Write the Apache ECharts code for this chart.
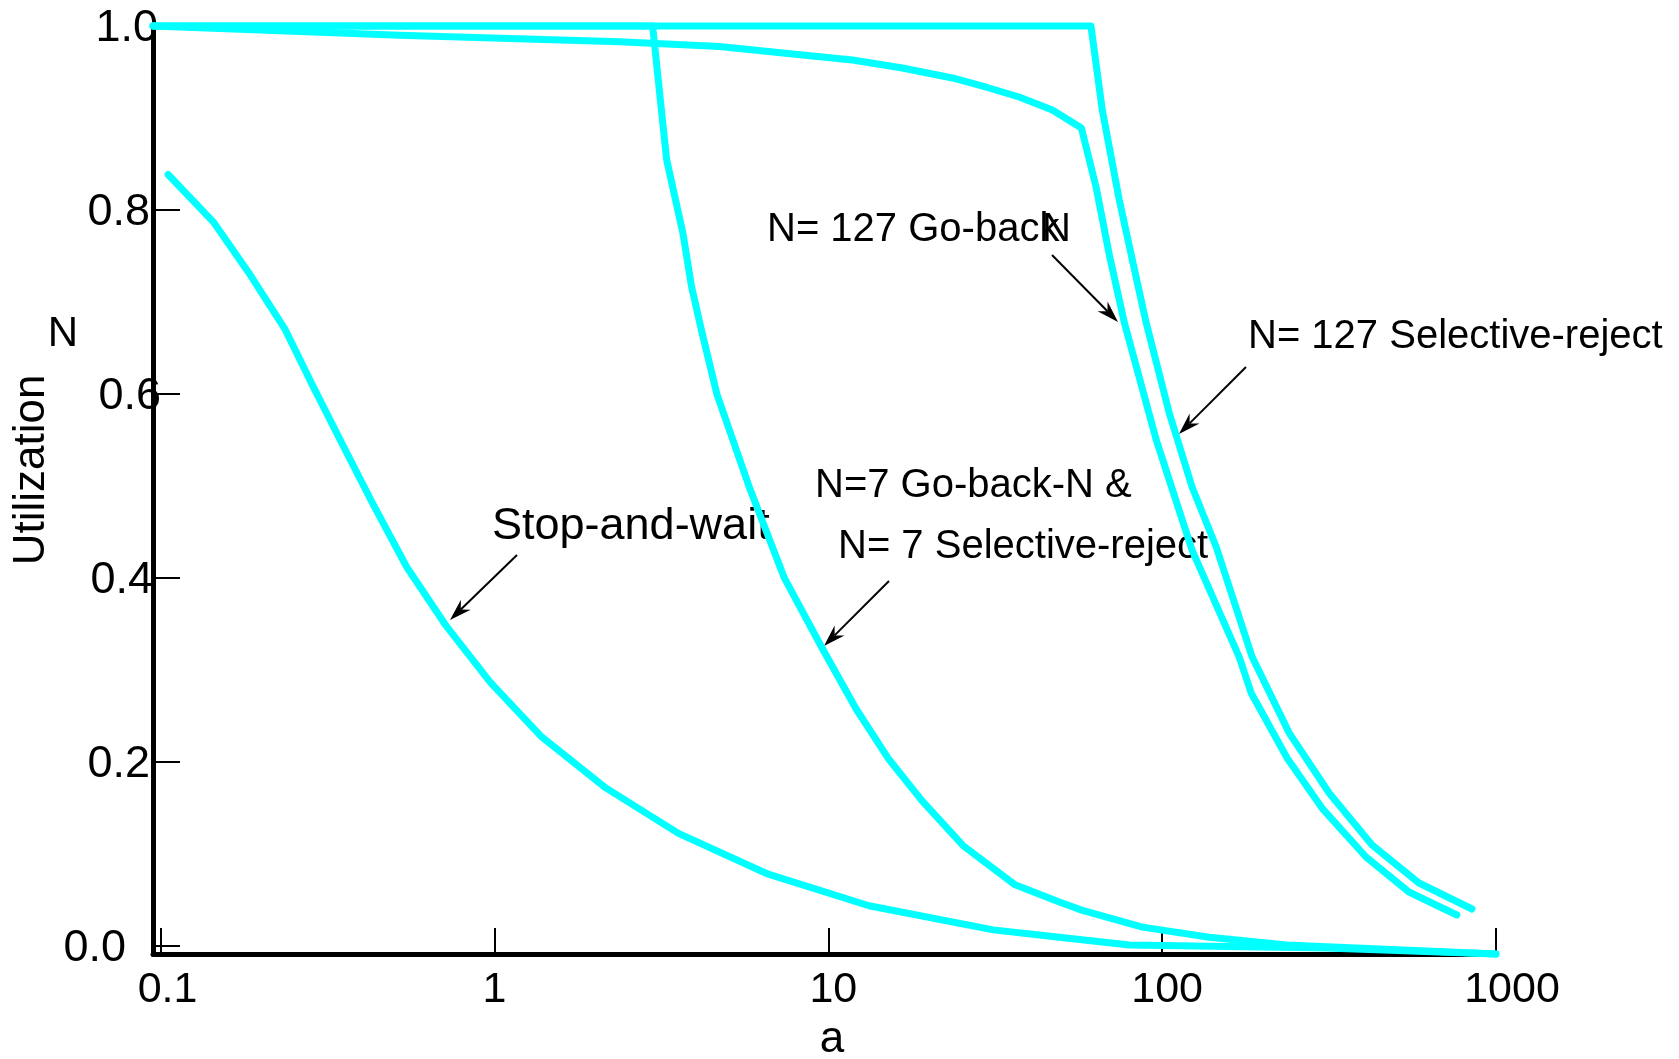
<!DOCTYPE html>
<html>
<head>
<meta charset="utf-8">
<script src="https://cdn.jsdelivr.net/npm/echarts@6/dist/echarts.min.js"></script>
<style>
html,body{margin:0;padding:0;background:#fff;}
#chart{width:1679px;height:1059px;}
</style>
</head>
<body>
<div id="chart"></div>
<script>
// ---- data (a = x, U = utilization) ----
const xTickValues = [0.1, 1, 10, 100, 1000];
const xTickLabels = ['0.1', '1', '10', '100', '1000'];
const yTickLabels = ['0.0', '0.2', '0.4', '0.6', '0.8', '1.0'];
const xMinA = 0.0949;
const xMaxA = 1000;

const aStopWait = [0.1053, 0.1438, 0.183, 0.2353, 0.285, 0.3507, 0.431, 0.546, 0.712, 0.9707, 1.384, 2.155, 3.558, 6.61, 13.24, 31.2, 49.2, 79.7, 310.5, 1000];
const uStopWait = [0.840, 0.789, 0.735, 0.674, 0.613, 0.549, 0.486, 0.417, 0.355, 0.293, 0.234, 0.179, 0.130, 0.086, 0.052, 0.026, 0.018, 0.0097, 0.0065, 0];

const aN7 = [0.0949, 2.977, 3.279, 3.668, 3.895, 4.17, 4.64, 5.80, 7.39, 9.57, 12.12, 15.1, 19.1, 25.3, 36.1, 49.2, 57.7, 87.3, 138.4, 235.6, 1000];
const uN7 = [1, 1, 0.856, 0.777, 0.719, 0.672, 0.603, 0.503, 0.405, 0.330, 0.264, 0.211, 0.165, 0.117, 0.075, 0.056, 0.047, 0.029, 0.018, 0.0097, 0];

const aSR127 = [0.0949, 61.2, 66.2, 74.4, 81.4, 89.6, 105.0, 123.0, 145.2, 186.1, 240.3, 316.3, 425.3, 587.8, 847.3];
const uSR127 = [1, 1, 0.909, 0.8125, 0.748, 0.680, 0.583, 0.503, 0.4386, 0.320, 0.238, 0.1735, 0.1175, 0.0765, 0.0485];

const aGBN127 = [0.0949, 0.5207, 2.371, 4.72, 8.37, 11.82, 16.67, 23.53, 29.75, 37.3, 46.9, 57.3, 63.4, 69.5, 77.1, 96.0, 123.0, 170.2, 184.9, 237.0, 301.5, 408.0, 548.6, 763.3];
const uGBN127 = [1.0, 0.990, 0.983, 0.978, 0.9688, 0.9634, 0.9547, 0.944, 0.934, 0.9235, 0.9095, 0.890, 0.8265, 0.753, 0.680, 0.554, 0.435, 0.320, 0.281, 0.211, 0.157, 0.1045, 0.0668, 0.042];

// ---- build ----
const FONT = '"Liberation Sans", Arial, Helvetica, sans-serif';
const CYAN = '#00FFFF';
const lg = v => Math.log10(v);
const pts = (xs, ys) => xs.map((x, i) => [lg(x), ys[i]]);

function lineSeries(name, xs, ys) {
  return {
    name, type: 'line', xAxisIndex: 0, yAxisIndex: 0,
    data: pts(xs, ys), showSymbol: false, symbol: 'none', clip: false,
    lineStyle: { color: CYAN, width: 7, cap: 'round', join: 'round' },
    silent: true, animation: false
  };
}

// label position tweaks (rich padding)
const xPad = { '0.1': 14, '1': 0, '10': 10, '100': 10, '1000': 32 };
const yPad = { '0.0': 39, '0.2': 15, '0.4': 12, '0.6': 4, '0.8': 15, '1.0': 7 };
const xRich = {}, yRich = {};
xTickLabels.forEach((t, i) => { xRich['x' + i] = { fontSize: 43, fontFamily: FONT, color: '#000', padding: [0, 0, 0, xPad[t]] }; });
yTickLabels.forEach((t, i) => { yRich['y' + i] = { fontSize: 45, fontFamily: FONT, color: '#000', padding: [6, yPad[t], 0, 0] }; });

const chart = echarts.init(document.getElementById('chart'), null, { renderer: 'canvas' });

const option = {
  backgroundColor: '#fff',
  animation: false,
  grid: [
    { left: 153, top: 26, right: 183, bottom: 105 },
    { left: 153, top: 26, right: 183, height: 920 }
  ],
  xAxis: [
    {
      type: 'value', gridIndex: 0, min: lg(xMinA), max: lg(xMaxA),
      axisLine: { show: true, onZero: false, lineStyle: { color: '#000', width: 5 } },
      axisTick: { show: true, inside: true, length: 26, lineStyle: { color: '#000', width: 2 }, customValues: xTickValues.map(lg) },
      axisLabel: {
        show: true, margin: 36, verticalAlign: 'middle', customValues: xTickValues.map(lg),
        fontSize: 43, fontFamily: FONT, color: '#000',
        formatter: function (v) {
          const i = xTickValues.findIndex(t => Math.abs(lg(t) - v) < 1e-6);
          return i >= 0 ? '{x' + i + '|' + xTickLabels[i] + '}' : '';
        },
        rich: xRich
      },
      splitLine: { show: false }
    },
    { type: 'value', gridIndex: 1, show: false, min: 0, max: 1 }
  ],
  yAxis: [
    {
      type: 'value', gridIndex: 0, min: 0, max: 1,
      axisLine: { show: true, onZero: false, lineStyle: { color: '#000', width: 5 } },
      axisTick: { show: false }, axisLabel: { show: false }, splitLine: { show: false }
    },
    {
      type: 'value', gridIndex: 1, min: 0, max: 1, interval: 0.2,
      axisLine: { show: false, onZero: false },
      axisTick: { show: true, inside: true, length: 27, lineStyle: { color: '#000', width: 2 } },
      axisLabel: {
        show: true, margin: -12, fontSize: 45, fontFamily: FONT, color: '#000',
        formatter: function (v) {
          const t = v.toFixed(1);
          const i = yTickLabels.indexOf(t);
          return '{y' + i + '|' + t + '}';
        },
        rich: yRich
      },
      splitLine: { show: false }
    }
  ],
  series: [
    lineSeries('Stop-and-wait', aStopWait, uStopWait),
    lineSeries('N=7', aN7, uN7),
    lineSeries('N=127 Go-back-N', aGBN127, uGBN127),
    lineSeries('N=127 Selective-reject', aSR127, uSR127)
  ]
};

// annotations
function arrow(x1, y1, x2, y2) {
  const dx = x2 - x1, dy = y2 - y1, len = Math.hypot(dx, dy);
  const ux = dx / len, uy = dy / len, nx = -uy, ny = ux;
  const L = 22, W = 7, N = 15;
  return [
    { type: 'line', silent: true, shape: { x1: x1, y1: y1, x2: x2 - ux * N, y2: y2 - uy * N }, style: { stroke: '#000', lineWidth: 2 } },
    { type: 'polygon', silent: true, shape: { points: [[x2, y2], [x2 - ux * L + nx * W, y2 - uy * L + ny * W], [x2 - ux * N, y2 - uy * N], [x2 - ux * L - nx * W, y2 - uy * L - ny * W]] }, style: { fill: '#000' } }
  ];
}
function txt(text, x, y, size, align, rot) {
  return { type: 'text', silent: true, x: x, y: y, rotation: rot || 0,
    style: { text: text, fontSize: size, fontFamily: FONT, fill: '#000', align: align || 'left', verticalAlign: 'middle' } };
}

option.graphic = [].concat(
  [
    txt('Stop-and-wait', 492, 527, 45),
    txt('N=7 Go-back-N &', 815, 486, 40),
    txt('N= 7 Selective-reject', 838, 547, 40),
    txt('N= 127 Go-back', 767, 230, 40),
    txt('N', 1042, 230, 40),
    txt('N= 127 Selective-reject', 1248, 337, 40),
    txt('Utilization', 32, 470, 44, 'center', Math.PI / 2),
    txt('N', 63, 334, 42, 'center'),
    txt('a', 832, 1040, 44, 'center')
  ],
  arrow(517, 555, 450, 620),
  arrow(889, 581, 824, 646),
  arrow(1052, 255, 1118, 322),
  arrow(1246, 367, 1179, 434)
);

chart.setOption(option);
</script>
</body>
</html>
